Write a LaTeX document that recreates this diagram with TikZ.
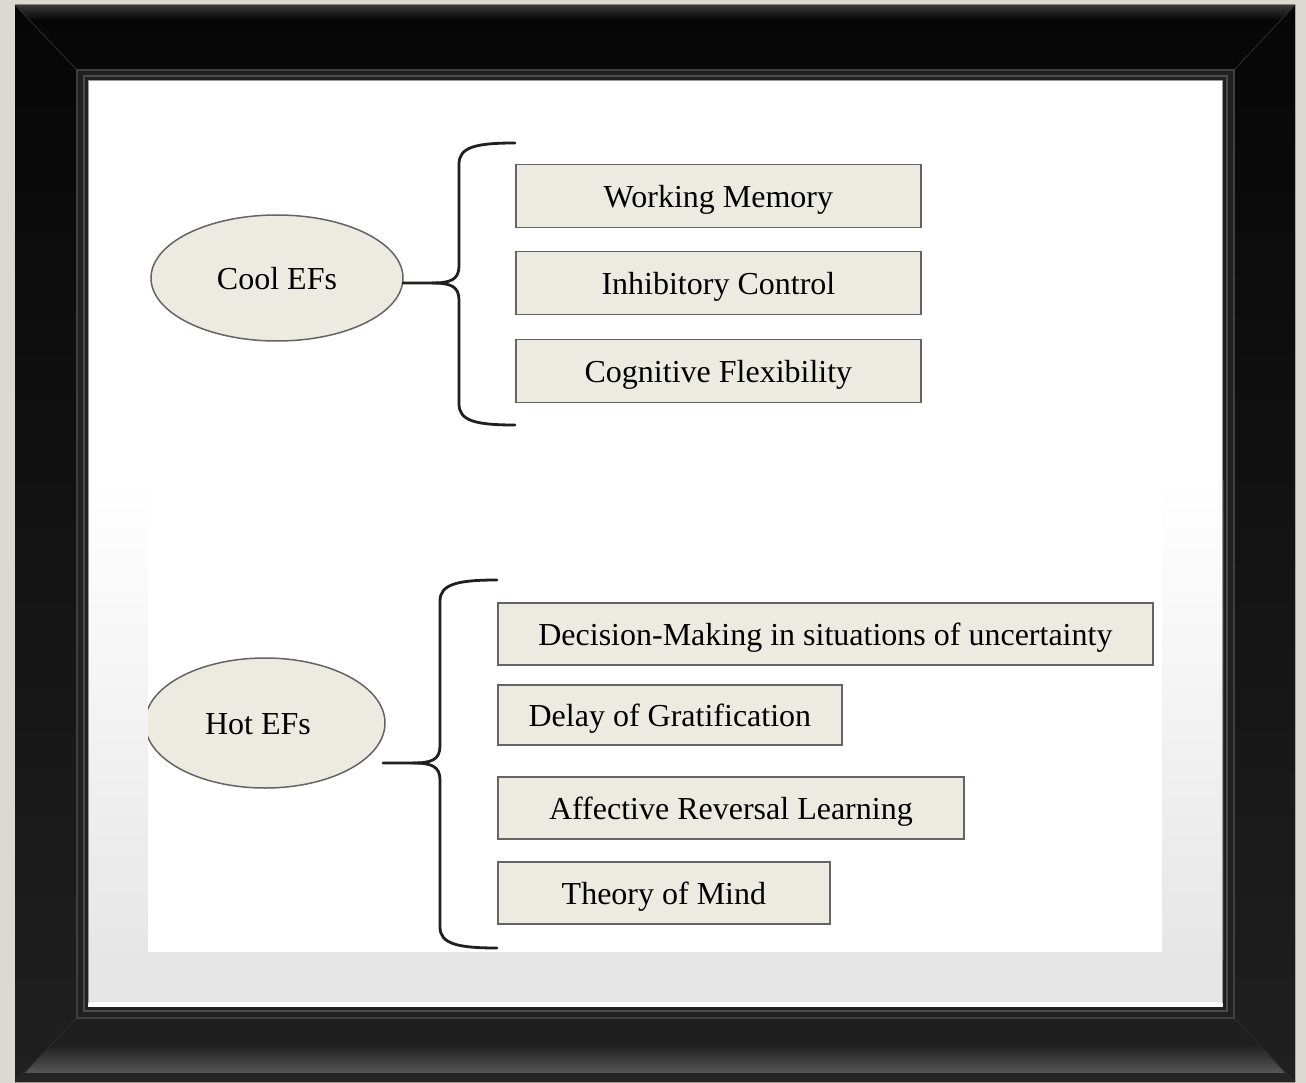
\documentclass[tikz,border=0pt]{standalone}
\usepackage{fontspec}
\setmainfont{Liberation Serif}
\usetikzlibrary{shapes.geometric}
\definecolor{wall}{HTML}{DCD9D3}
\definecolor{boxfill}{HTML}{EDEBE1}
\definecolor{boxline}{HTML}{646464}
\definecolor{frametop}{HTML}{060606}
\definecolor{framebot}{HTML}{202020}
\definecolor{matte}{HTML}{E6E6E6}
\begin{document}
\begin{tikzpicture}[x=1pt,y=-1pt,
  eftext/.style={font=\fontsize{32}{36}\selectfont, text height=24pt, text depth=1pt},
  efbox/.style={eftext, draw=boxline, line width=1.8pt, fill=boxfill, minimum height=62pt,
    inner sep=0pt, anchor=west},
  efoval/.style={eftext, ellipse, draw=boxline, line width=1.5pt, fill=boxfill, inner sep=0pt},
  bracket/.style={line width=2.8pt, draw=black!88, line cap=round, line join=round}]

% wall behind the frame
\fill[wall] (0,0) rectangle (1306,1083);
\useasboundingbox (0,0) rectangle (1306,1083);

% black frame
\fill[even odd rule, top color=frametop, bottom color=framebot]
  (15,5) rectangle (1295,1082) (88,80) rectangle (1223,1007);
% top and bottom edge highlights
\fill[top color=black!78, bottom color=frametop] (15,5) -- (1295,5) -- (1281,20) -- (29,20) -- cycle;
\fill[top color=framebot, bottom color=black!66] (50,1045) -- (1260,1045) -- (1285,1073) -- (25,1073) -- cycle;
\fill[black!86] (25,1073) -- (1285,1073) -- (1295,1082) -- (15,1082) -- cycle;
% mitred corners
\draw[black!82, line width=0.8pt] (15,5) -- (77,70) (1295,5) -- (1234,70)
  (15,1082) -- (77,1018) (1295,1082) -- (1234,1018);
% inner bevel
\fill[even odd rule, black!87] (77,70) rectangle (1234,1018) (88,80) rectangle (1223,1007);
\draw[black!75, line width=1.5pt] (77,70) rectangle (1234,1018);
\draw[black!70, line width=1.2pt] (84,76) rectangle (1227,1011);

% mat inside the frame
\fill[white] (88,80) rectangle (1223,480);
\fill[top color=white, bottom color=matte] (88,480) rectangle (1223,960);
\fill[matte] (88,959) rectangle (1223,1007);
\fill[white] (88,1002) rectangle (1223,1007);
\draw[black!40, line width=1pt] (88.5,1003) -- (88.5,80.5) -- (1222.5,80.5) -- (1222.5,1003);
\fill[white] (148,490) rectangle (1162,952);

% cool executive functions
\node[efoval, minimum width=252pt, minimum height=126pt] (cool) at (277,278) {Cool EFs};
\node[efbox, minimum width=405pt, minimum height=63pt] (wm) at (515,196) {Working Memory};
\node[efbox, minimum width=405pt, minimum height=63pt] (ic) at (515,283) {Inhibitory Control};
\node[efbox, minimum width=405pt, minimum height=63pt] (cf) at (515,371) {Cognitive Flexibility};

\coordinate (ctop) at (515,143);
\coordinate (ctip) at (403,283);
\coordinate (cjoin) at (432,283);
\coordinate (cbot) at (515,425);
\draw[bracket] (ctop) .. controls (476,143) and (459,147) .. (459,164) -- (459,266)
  .. controls (459,280) and (450,283) .. (cjoin) -- (ctip);
\draw[bracket] (cjoin) .. controls (450,283) and (459,286) .. (459,300) -- (459,404)
  .. controls (459,421) and (476,425) .. (cbot);

% hot executive functions
\begin{scope}
  \clip (148,490) rectangle (1162,952);
  \node[efoval, minimum width=240pt, minimum height=130pt] (hot) at (265,723) {\hspace*{-14pt}Hot EFs};
\end{scope}
\node[efbox, minimum width=655pt] (dm) at (497,634) {Decision-Making in situations of uncertainty};
\node[efbox, minimum width=344pt, minimum height=60pt] (dg) at (497,715) {Delay of Gratification};
\node[efbox, minimum width=466pt] (ar) at (497,808) {Affective Reversal Learning};
\node[efbox, minimum width=332pt] (tm) at (497,893) {Theory of Mind};

\coordinate (htop) at (497,580);
\coordinate (htip) at (383,763);
\coordinate (hjoin) at (413,763);
\coordinate (hbot) at (497,948);
\draw[bracket] (htop) .. controls (458,580) and (440,584) .. (440,601) -- (440,746)
  .. controls (440,760) and (431,763) .. (hjoin) -- (htip);
\draw[bracket] (hjoin) .. controls (431,763) and (440,766) .. (440,780) -- (440,927)
  .. controls (440,944) and (458,948) .. (hbot);
\end{tikzpicture}
\end{document}
